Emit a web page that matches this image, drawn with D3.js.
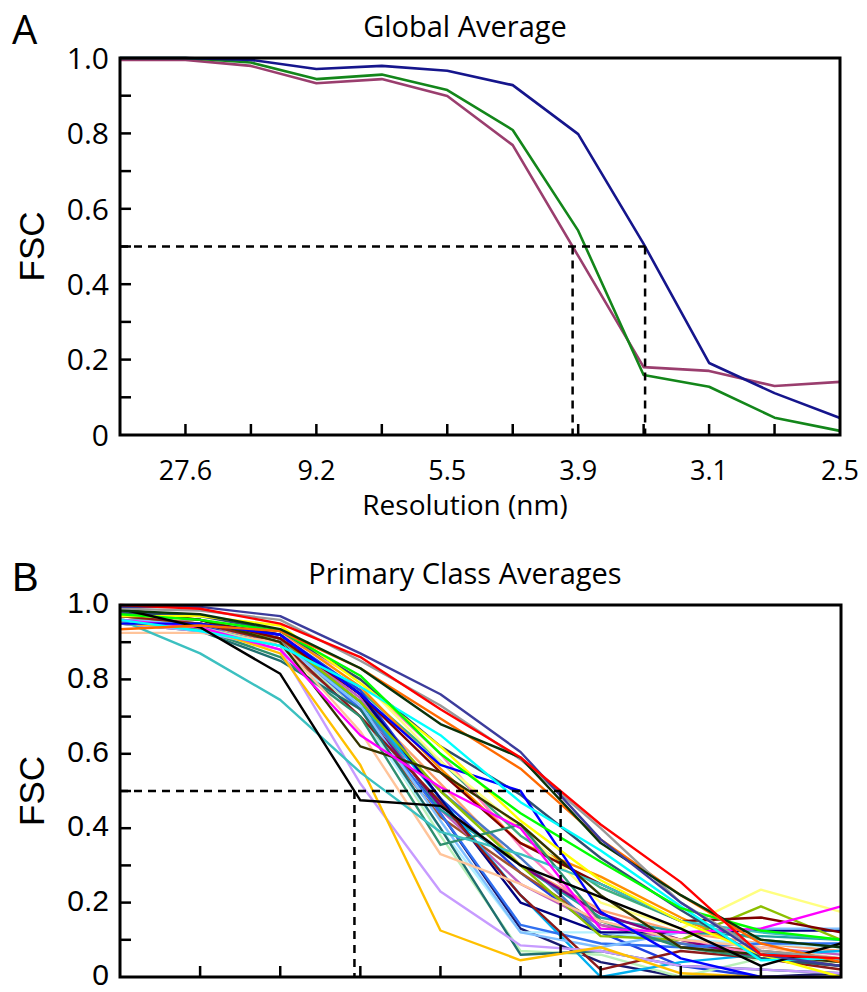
<!DOCTYPE html>
<html>
<head>
<meta charset="utf-8">
<script src="https://cdn.jsdelivr.net/npm/d3@7"></script>
<style>
  body { margin: 0; background: #fff; }
  svg { display: block; }
  .sans { font-family: "Open Sans", sans-serif; }
  .arial { font-family: "Liberation Sans", Arial, sans-serif; }
</style>
</head>
<body>
<div id="chart"></div>
<script>
// ---- data ----
// panel A: x positions are shells (index), labelled every other shell
var resLabels = ["27.6", "9.2", "5.5", "3.9", "3.1", "2.5"];
var resLabelIdx = [1, 3, 5, 7, 9, 11];

var fscBlue   = [1.0, 1.0, 0.995, 0.971, 0.979, 0.966, 0.928, 0.798, 0.507, 0.191, 0.111, 0.045];
var fscGreen  = [1.0, 1.0, 0.988, 0.944, 0.956, 0.915, 0.809, 0.542, 0.159, 0.128, 0.046, 0.011];
var fscPurple = [0.995, 0.995, 0.979, 0.933, 0.944, 0.899, 0.769, 0.475, 0.180, 0.170, 0.130, 0.141];

var globalSeries = [fscPurple, fscGreen, fscBlue];
var globalColors = ["#9a3e6e", "#13861a", "#15158c"];

// panel B: primary class averages (10 shells each)
var classColors = [
  "#ffa070", "#40b080", "#1a1a70", "#2040e0", "#a0522d", "#c060c0", "#20a0a0", "#4a78c8",
  "#ff80c0", "#b8f0b8", "#b0f0ff", "#00b0f0", "#ff9000", "#800080", "#000080", "#3070f0",
  "#80c0ff", "#ffff80", "#8cbf00", "#8b1a1a", "#800000", "#1f6f6f", "#2f8f6f", "#ffc49a",
  "#c79bff", "#ffc000", "#3cc0c0", "#333300", "#2f4f6f", "#ff00ff", "#0000ff", "#ffff00",
  "#00ffff", "#00ff00", "#000000", "#ff6a00", "#999999", "#0a330a", "#3c3c9c", "#ff0000"
];
var classFsc = [
  [0.95, 0.94, 0.90, 0.74, 0.52, 0.30, 0.18, 0.12, 0.09, 0.07],
  [0.96, 0.95, 0.91, 0.77, 0.58, 0.38, 0.24, 0.15, 0.10, 0.08],
  [0.97, 0.96, 0.92, 0.76, 0.44, 0.13, 0.04, 0.00, 0.00, 0.01],
  [0.95, 0.94, 0.92, 0.77, 0.48, 0.28, 0.12, 0.03, 0.00, 0.00],
  [0.96, 0.94, 0.89, 0.70, 0.43, 0.28, 0.14, 0.09, 0.07, 0.05],
  [0.97, 0.95, 0.91, 0.75, 0.45, 0.25, 0.14, 0.10, 0.08, 0.06],
  [0.96, 0.95, 0.90, 0.74, 0.45, 0.30, 0.16, 0.12, 0.11, 0.10],
  [0.95, 0.94, 0.89, 0.72, 0.50, 0.32, 0.12, 0.09, 0.06, 0.05],
  [0.97, 0.96, 0.92, 0.80, 0.60, 0.35, 0.15, 0.10, 0.06, 0.04],
  [0.96, 0.94, 0.89, 0.72, 0.38, 0.07, 0.06, 0.00, 0.05, 0.04],
  [0.95, 0.93, 0.88, 0.70, 0.40, 0.12, 0.12, 0.10, 0.09, 0.08],
  [0.96, 0.95, 0.90, 0.74, 0.48, 0.22, 0.00, 0.04, 0.06, 0.07],
  [0.96, 0.95, 0.93, 0.78, 0.56, 0.36, 0.27, 0.16, 0.06, 0.03],
  [0.97, 0.96, 0.91, 0.72, 0.46, 0.30, 0.17, 0.10, 0.05, 0.03],
  [0.97, 0.96, 0.92, 0.76, 0.48, 0.20, 0.12, 0.12, 0.125, 0.125],
  [0.96, 0.95, 0.91, 0.72, 0.44, 0.14, 0.09, 0.08, 0.09, 0.09],
  [0.96, 0.95, 0.90, 0.73, 0.42, 0.12, 0.08, 0.12, 0.13, 0.13],
  [0.97, 0.96, 0.93, 0.80, 0.58, 0.40, 0.20, 0.13, 0.235, 0.175],
  [0.97, 0.95, 0.91, 0.74, 0.50, 0.30, 0.11, 0.10, 0.19, 0.10],
  [0.97, 0.95, 0.90, 0.70, 0.47, 0.22, 0.02, 0.07, 0.05, 0.02],
  [0.98, 0.96, 0.91, 0.76, 0.55, 0.36, 0.25, 0.15, 0.16, 0.12],
  [0.95, 0.93, 0.85, 0.72, 0.40, 0.06, 0.07, 0.03, 0.02, 0.01],
  [0.95, 0.935, 0.86, 0.70, 0.355, 0.41, 0.15, 0.08, 0.05, 0.03],
  [0.925, 0.925, 0.90, 0.66, 0.33, 0.25, 0.15, 0.10, 0.08, 0.05],
  [0.95, 0.93, 0.88, 0.52, 0.23, 0.085, 0.07, 0.03, 0.02, 0.01],
  [0.95, 0.94, 0.87, 0.57, 0.125, 0.045, 0.08, 0.01, 0.00, 0.00],
  [0.96, 0.87, 0.745, 0.55, 0.39, 0.33, 0.25, 0.15, 0.12, 0.10],
  [0.99, 0.96, 0.90, 0.62, 0.55, 0.41, 0.22, 0.08, 0.06, 0.04],
  [0.98, 0.97, 0.93, 0.80, 0.62, 0.49, 0.32, 0.18, 0.05, 0.03],
  [0.96, 0.94, 0.88, 0.65, 0.51, 0.40, 0.13, 0.12, 0.13, 0.19],
  [0.95, 0.95, 0.92, 0.76, 0.57, 0.50, 0.175, 0.05, 0.00, 0.00],
  [0.97, 0.97, 0.945, 0.79, 0.62, 0.42, 0.26, 0.15, 0.06, 0.00],
  [0.96, 0.93, 0.89, 0.78, 0.65, 0.47, 0.34, 0.19, 0.045, 0.05],
  [0.975, 0.96, 0.93, 0.81, 0.60, 0.44, 0.31, 0.185, 0.125, 0.10],
  [0.99, 0.94, 0.815, 0.475, 0.46, 0.30, 0.215, 0.13, 0.03, 0.09],
  [0.935, 0.945, 0.93, 0.83, 0.695, 0.56, 0.37, 0.22, 0.09, 0.04],
  [0.99, 0.985, 0.96, 0.85, 0.73, 0.585, 0.40, 0.20, 0.07, 0.05],
  [0.985, 0.975, 0.935, 0.83, 0.68, 0.59, 0.36, 0.22, 0.10, 0.08],
  [0.995, 0.995, 0.97, 0.87, 0.76, 0.605, 0.37, 0.20, 0.06, 0.03],
  [1.0, 0.99, 0.95, 0.86, 0.72, 0.59, 0.41, 0.255, 0.06, 0.05]
];

var yTickVals = [0, 0.1, 0.2, 0.3, 0.4, 0.5, 0.6, 0.7, 0.8, 0.9, 1.0];
var yLabelVals = [0, 0.2, 0.4, 0.6, 0.8, 1.0];
var threshold = 0.5;

// ---- helpers ----
// fractional index where a curve first drops below the threshold
function crossing(s, level) {
  for (var i = 0; i < s.length - 1; i++) {
    if (s[i] >= level && s[i + 1] < level)
      return i + (s[i] - level) / (s[i] - s[i + 1]);
  }
  return null;
}
function fmt(v) { return v === 0 ? "0" : d3.format(".1f")(v); }

var svg = d3.select("#chart").append("svg")
    .attr("width", 867)
    .attr("height", 992);

function drawPanel(opt) {
  var x = d3.scaleLinear().domain([0, opt.n - 1]).range([opt.left, opt.right]);
  var y = d3.scaleLinear().domain([0, 1]).range([opt.bottom, opt.top]);
  var g = svg.append("g");

  // lines
  var line = d3.line()
      .x(function (d, i) { return x(i); })
      .y(function (d) { return y(d); });

  g.append("g").selectAll("path")
      .data(opt.series)
      .enter().append("path")
      .attr("d", line)
      .attr("fill", "none")
      .attr("stroke", function (d, i) { return opt.colors[i]; })
      .attr("stroke-width", opt.lineWidth)
      .attr("stroke-linejoin", "round");

  // dashed 0.5 markers
  var dash = g.append("g")
      .attr("stroke", "#000")
      .attr("stroke-width", 2.5)
      .attr("stroke-dasharray", "8,6")
      .attr("fill", "none");
  var xs = opt.marks;
  dash.append("line")
      .attr("x1", x(0)).attr("x2", x(d3.max(xs)))
      .attr("y1", y(threshold)).attr("y2", y(threshold));
  dash.selectAll(".vmark").data(xs).enter().append("line")
      .attr("class", "vmark")
      .attr("x1", function (d) { return x(d); })
      .attr("x2", function (d) { return x(d); })
      .attr("y1", y(threshold)).attr("y2", y(0));

  // ticks (inward)
  var tk = g.append("g").attr("stroke", "#000").attr("stroke-width", 2.5);
  tk.selectAll(".yt").data(yTickVals.slice(1, -1)).enter().append("line")
      .attr("x1", opt.left).attr("x2", opt.left + 11)
      .attr("y1", function (d) { return y(d); })
      .attr("y2", function (d) { return y(d); });
  tk.selectAll(".xt").data(d3.range(1, opt.n - 1)).enter().append("line")
      .attr("x1", function (d) { return x(d); })
      .attr("x2", function (d) { return x(d); })
      .attr("y1", opt.bottom).attr("y2", opt.bottom - 11);

  // frame
  g.append("rect")
      .attr("x", opt.left).attr("y", opt.top)
      .attr("width", opt.right - opt.left)
      .attr("height", opt.bottom - opt.top)
      .attr("fill", "none")
      .attr("stroke", "#000")
      .attr("stroke-width", 3);

  // y labels
  g.selectAll(".yl").data(yLabelVals).enter().append("text")
      .attr("class", opt.tickFont)
      .attr("x", opt.left - 11)
      .attr("y", function (d) { return y(d); })
      .attr("dy", opt.labelDy)
      .attr("text-anchor", "end")
      .attr("font-size", opt.tickSize)
      .text(fmt);

  g.append("text")
      .attr("class", "arial")
      .attr("transform", "translate(44," + ((opt.top + opt.bottom) / 2) + ") rotate(-90)")
      .attr("text-anchor", "middle")
      .attr("font-size", 35)
      .text("FSC");

  g.append("text")
      .attr("class", "sans")
      .attr("x", 465)
      .attr("y", opt.top - 21)
      .attr("text-anchor", "middle")
      .attr("font-size", 29)
      .text(opt.title);

  g.append("text")
      .attr("class", opt.letterFont)
      .attr("x", 12)
      .attr("y", opt.top - 14)
      .attr("font-size", 40)
      .text(opt.letter);

  return { x: x, y: y, g: g };
}

// panel A
var pA = drawPanel({
  n: 12, left: 120, right: 840, top: 58, bottom: 435,
  series: globalSeries, colors: globalColors, lineWidth: 2.6,
  marks: [crossing(fscPurple, threshold), crossing(fscBlue, threshold)],
  title: "Global Average", letter: "A", letterFont: "sans",
  tickFont: "sans", tickSize: 30, labelDy: "0.36em"
});

pA.g.selectAll(".xl").data(resLabels).enter().append("text")
    .attr("class", "sans")
    .attr("x", function (d, i) { return pA.x(resLabelIdx[i]); })
    .attr("y", 480)
    .attr("text-anchor", "middle")
    .attr("font-size", 27)
    .text(function (d) { return d; });

pA.g.append("text")
    .attr("class", "sans")
    .attr("x", 465)
    .attr("y", 515)
    .attr("text-anchor", "middle")
    .attr("font-size", 28)
    .text("Resolution (nm)");

// panel B
var bCross = classFsc.map(function (s) { return crossing(s, threshold); })
    .filter(function (c) { return c !== null; });

drawPanel({
  n: 10, left: 120, right: 841, top: 605, bottom: 977,
  series: classFsc, colors: classColors, lineWidth: 2.4,
  marks: [d3.min(bCross), d3.max(bCross)],
  title: "Primary Class Averages", letter: "B", letterFont: "arial",
  tickFont: "arial", tickSize: 30, labelDy: "0.27em"
});
</script>
</body>
</html>
